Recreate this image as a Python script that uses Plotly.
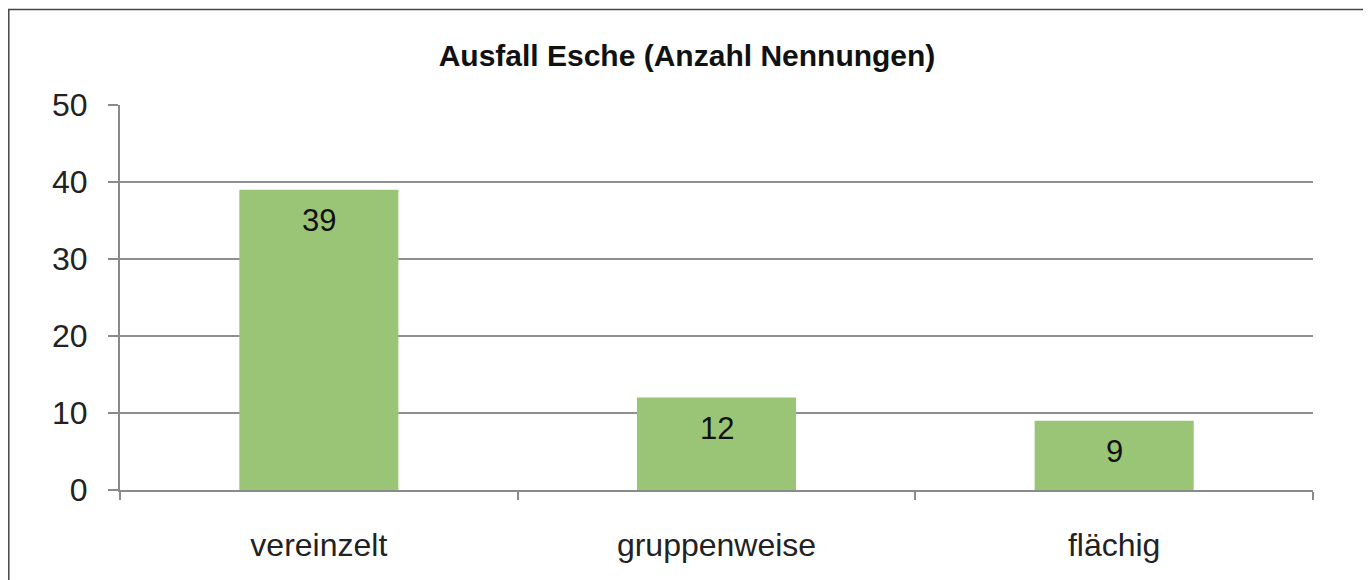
import plotly.graph_objects as go

categories = ["vereinzelt", "gruppenweise", "flächig"]
values = [39, 12, 9]
title_text = "Ausfall Esche (Anzahl Nennungen)"
y_ticks = [0, 10, 20, 30, 40, 50]

# page body has an 8px margin; compensate so the plot lands where the reference has it
OFF = 8
W, H = 1371 - OFF, 580 - OFF
L, R, T, B = 120 - OFF, 58, 105 - OFF, 90
pw, ph = W - L - R, H - T - B
FONT = "Liberation Sans, Arial, Helvetica, sans-serif"

fig = go.Figure(go.Bar(
    x=categories, y=values,
    marker=dict(color="#9BC576", line=dict(width=0)),
    hoverinfo="x+y",
))

for c, v in zip(categories, values):
    fig.add_annotation(x=c, y=v, text=str(v), showarrow=False,
                       yanchor="top", yshift=-11,
                       font=dict(size=31, color="#111111", family=FONT))

def px_x(x):
    return (x - L) / pw

def px_y(y):
    return (H - B - y) / ph

fig.add_shape(type="rect", xref="paper", yref="paper",
              x0=px_x(0.8), x1=px_x(1367 - OFF), y0=px_y(600), y1=px_y(1.5),
              line=dict(color="#444444", width=1.5), fillcolor="rgba(0,0,0,0)", layer="below")

fig.update_layout(
    width=W, height=H,
    margin=dict(l=L, r=R, t=T, b=B),
    paper_bgcolor="white", plot_bgcolor="white",
    bargap=0.6,
    showlegend=False,
    font=dict(family=FONT, color="#222222"),
    title=dict(text="<b>" + title_text + "</b>", x=(687 - OFF) / W, xanchor="center",
               y=1 - (55 - OFF) / H, yanchor="middle",
               font=dict(size=30, color="#111111", family=FONT)),
    xaxis=dict(
        showgrid=False, showline=True, linecolor="#8a8a8a", linewidth=2,
        ticks="outside", tickson="boundaries", ticklen=8, tickcolor="#8a8a8a", tickwidth=2,
        tickfont=dict(size=32, color="#222222"), ticklabelstandoff=26,
    ),
    yaxis=dict(
        range=[0, 50], tickvals=y_ticks,
        showgrid=True, gridcolor="#8f8f8f", gridwidth=2,
        showline=True, linecolor="#8a8a8a", linewidth=2,
        ticks="outside", ticklen=10, tickcolor="#8a8a8a", tickwidth=2,
        tickfont=dict(size=32, color="#222222"), ticklabelstandoff=14,
        zeroline=False,
    ),
)

fig.write_html("out.html")
